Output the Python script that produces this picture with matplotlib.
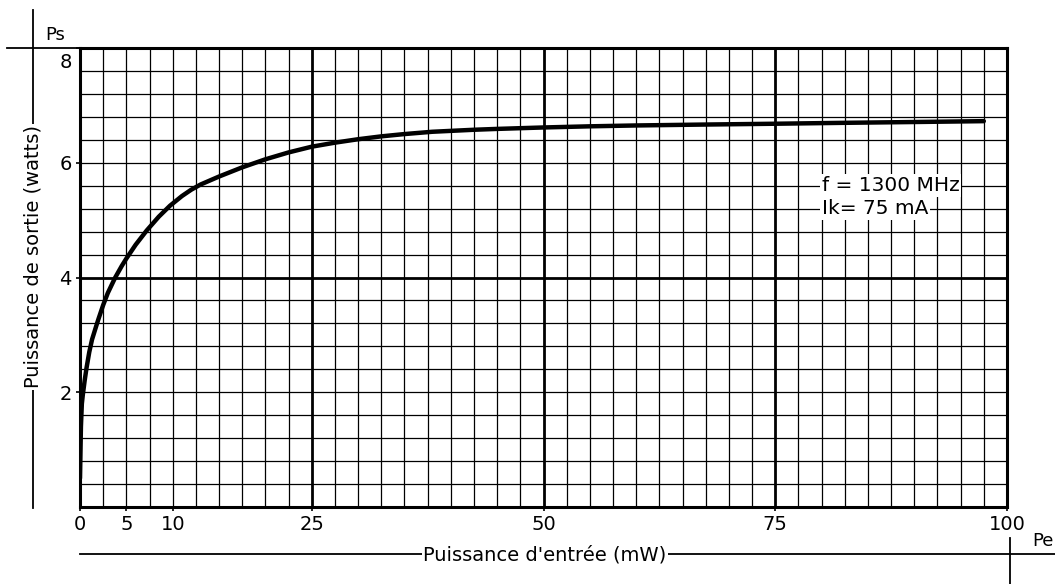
import matplotlib.pyplot as plt
import numpy as np
from matplotlib.lines import Line2D
from matplotlib.transforms import ScaledTranslation

# Données
pe = [0, 0.1, 0.2, 0.3, 0.5, 0.7, 1.0, 1.3, 1.8, 2.0, 2.5, 3.0, 3.8, 4.5, 5.0, 6.0, 7.2,
      8.5, 9.7, 11, 12, 13, 15, 17.5, 20, 22.5, 25, 27.5, 30, 32.5, 35, 38, 42.5, 45,
      50, 55, 60, 67, 75, 82, 90, 97.5]
ps = [0.5, 1.4, 1.8, 1.95, 2.2, 2.42, 2.7, 2.92, 3.18, 3.28, 3.52, 3.73, 4.0, 4.2, 4.33, 4.57, 4.82,
      5.06, 5.25, 5.42, 5.53, 5.62, 5.76, 5.92, 6.06, 6.18, 6.28, 6.35, 6.41, 6.46, 6.5, 6.54, 6.575,
      6.59, 6.615, 6.635, 6.65, 6.665, 6.68, 6.695, 6.71, 6.725]

x_ticks = [0, 5, 10, 25, 50, 75, 100]
y_ticks = [2, 4, 6, 8]
x_major = [25, 50, 75]
y_major = [4]

W, H = 1055, 584
fig = plt.figure(figsize=(W / 100, H / 100), dpi=100)
ax = fig.add_axes([80 / W, 1 - 507 / H, (1007 - 80) / W, (507 - 48) / H])
ax.set_xlim(0, 100)
ax.set_ylim(0, 8)

# quadrillage
for x in np.arange(2.5, 100, 2.5):
    ax.axvline(x, color='black', lw=2.0 if x in x_major else 0.9, zorder=1)
for y in np.arange(0.4, 8, 0.4):
    y = round(y, 1)
    ax.axhline(y, color='black', lw=2.0 if y in y_major else 0.9, zorder=1)

ax.plot(pe, ps, color='black', lw=3.2, solid_capstyle='round', solid_joinstyle='round', zorder=3)

for s in ax.spines.values():
    s.set_linewidth(2.2)

ax.set_xticks(x_ticks)
ax.set_xticklabels([str(v) for v in x_ticks])
ax.set_yticks(y_ticks)
ax.set_yticklabels([str(v) for v in y_ticks])
ax.tick_params(axis='both', direction='out', length=3, width=1.2, labelsize=14, pad=3)
top_lab = ax.get_yticklabels()[-1]
top_lab.set_transform(top_lab.get_transform() + ScaledTranslation(0, -0.12, fig.dpi_scale_trans))

ax.text(80.0, 5.6, 'f = 1300 MHz', fontsize=14.5, va='center', ha='left', zorder=4,
        bbox=dict(facecolor='white', edgecolor='none', pad=1.5))
ax.text(80.0, 5.2, 'Ik= 75 mA', fontsize=14.5, va='center', ha='left', zorder=4,
        bbox=dict(facecolor='white', edgecolor='none', pad=1.5))

# traits et titres d'axes hors du cadre
def fx(px):
    return px / W

def fy(py):
    return 1 - py / H

fig.add_artist(Line2D([fx(33), fx(33)], [fy(10), fy(508)], color='black', lw=1.3))
fig.add_artist(Line2D([fx(7), fx(80)], [fy(48), fy(48)], color='black', lw=1.3))
fig.add_artist(Line2D([fx(80), fx(1055)], [fy(554), fy(554)], color='black', lw=1.3))
fig.add_artist(Line2D([fx(1010), fx(1010)], [fy(538), fy(584)], color='black', lw=1.3))

fig.text(fx(33), fy(257), 'Puissance de sortie (watts)', rotation=90, fontsize=14,
         ha='center', va='center', bbox=dict(facecolor='white', edgecolor='none', pad=1))
fig.text(fx(545), fy(555), "Puissance d'entrée (mW)", fontsize=14,
         ha='center', va='center', bbox=dict(facecolor='white', edgecolor='none', pad=1))
fig.text(fx(45), fy(35), 'Ps', fontsize=13, ha='left', va='center')
fig.text(fx(1032), fy(541), 'Pe', fontsize=13, ha='left', va='center')

fig.savefig('out.png', dpi=100)
